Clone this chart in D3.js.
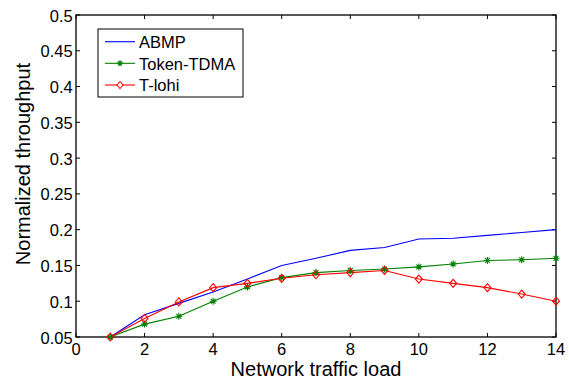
<!DOCTYPE html>
<html><head><meta charset="utf-8">
<script src="https://cdn.jsdelivr.net/npm/d3@7"></script>
<style>body{margin:0;background:#fff}svg{display:block}text{font-family:"Liberation Sans",Arial,sans-serif}</style>
</head><body>
<svg id="c" width="569" height="381"></svg>
<script>
const loads = [1,2,3,4,5,6,7,8,9,10,11,12,13,14];
const abmp = [0.05,0.081,0.097,0.113,0.131,0.150,0.160,0.171,0.175,0.187,0.188,0.192,0.196,0.200];
const tokenTdma = [0.05,0.068,0.079,0.100,0.120,0.133,0.140,0.143,0.145,0.148,0.152,0.157,0.158,0.160];
const tLohi = [0.05,0.076,0.099,0.119,0.125,0.132,0.137,0.140,0.143,0.131,0.125,0.119,0.110,0.100];
const xTicks = [0,2,4,6,8,10,12,14];
const yTicks = [0.05,0.1,0.15,0.2,0.25,0.3,0.35,0.4,0.45,0.5];
const yTickLabels = ["0.05","0.1","0.15","0.2","0.25","0.3","0.35","0.4","0.45","0.5"];
const seriesNames = ["ABMP","Token-TDMA","T-lohi"];

const svg = d3.select("#c");
const L=76, R=556, T=15, B=337;
const x = d3.scaleLinear().domain([0,14]).range([L,R]);
const y = d3.scaleLinear().domain([0.05,0.5]).range([B,T]);
const FS = 16.5;

// frame
svg.append("rect").attr("x",L).attr("y",T).attr("width",R-L).attr("height",B-T)
  .attr("fill","none").attr("stroke","#000").attr("stroke-width",1.3);

// ticks (inward on all sides)
const tl=4;
const g = svg.append("g").attr("stroke","#000").attr("stroke-width",1);
xTicks.forEach(t=>{
  g.append("line").attr("x1",x(t)).attr("x2",x(t)).attr("y1",B).attr("y2",B-tl);
  g.append("line").attr("x1",x(t)).attr("x2",x(t)).attr("y1",T).attr("y2",T+tl);
});
yTicks.forEach(t=>{
  g.append("line").attr("x1",L).attr("x2",L+tl).attr("y1",y(t)).attr("y2",y(t));
  g.append("line").attr("x1",R).attr("x2",R-tl).attr("y1",y(t)).attr("y2",y(t));
});
xTicks.forEach(t=>{
  svg.append("text").attr("x",x(t)).attr("y",B+18).attr("text-anchor","middle")
    .attr("font-size",FS).text(t);
});
yTicks.forEach((t,i)=>{
  svg.append("text").attr("x",L-3.3).attr("y",y(t)+6.5).attr("text-anchor","end")
    .attr("font-size",FS).text(yTickLabels[i]);
});
svg.append("text").attr("x",(L+R)/2).attr("y",376).attr("text-anchor","middle")
  .attr("font-size",20).text("Network traffic load");
svg.append("text").attr("transform",`translate(30,164) rotate(-90)`)
  .attr("text-anchor","middle").attr("font-size",20).text("Normalized throughput");

const line = d3.line().x((d,i)=>x(loads[i])).y(d=>y(d));
const colors = ["#0000ff","#008000","#ff0000"];
const data = [abmp,tokenTdma,tLohi];
data.forEach((s,k)=>{
  svg.append("path").datum(s).attr("d",line).attr("fill","none")
    .attr("stroke",colors[k]).attr("stroke-width",1.1);
});
function star(cx,cy,r){
  const a=r*0.7;
  return `M${cx-r},${cy}L${cx+r},${cy}M${cx},${cy-r}L${cx},${cy+r}M${cx-a},${cy-a}L${cx+a},${cy+a}M${cx-a},${cy+a}L${cx+a},${cy-a}`;
}
function diamond(cx,cy,w,h){
  return `M${cx},${cy-h}L${cx+w},${cy}L${cx},${cy+h}L${cx-w},${cy}Z`;
}
tokenTdma.forEach((v,i)=>{
  svg.append("path").attr("d",star(x(loads[i]),y(v),3.5)).attr("stroke",colors[1])
    .attr("stroke-width",1.1).attr("fill","none");
});
tLohi.forEach((v,i)=>{
  svg.append("path").attr("d",diamond(x(loads[i]),y(v),3.5,4)).attr("stroke",colors[2])
    .attr("stroke-width",1.1).attr("fill","none");
});

// legend
const lg = svg.append("g");
lg.append("rect").attr("x",98).attr("y",29).attr("width",145).attr("height",68)
  .attr("fill","#fff").attr("stroke","#000").attr("stroke-width",1);
const rows=[41.7,63.3,85];
seriesNames.forEach((n,k)=>{
  lg.append("line").attr("x1",105).attr("x2",135).attr("y1",rows[k]).attr("y2",rows[k])
    .attr("stroke",colors[k]).attr("stroke-width",1.1);
  if(k===1) lg.append("path").attr("d",star(120,rows[k],3)).attr("stroke",colors[1]).attr("stroke-width",1.1);
  if(k===2) lg.append("path").attr("d",diamond(120,rows[k],3,3.5)).attr("stroke",colors[2]).attr("fill","#fff").attr("stroke-width",1.1);
  lg.append("text").attr("x",139).attr("y",rows[k]+6.3).attr("font-size",FS).text(n);
});
</script>
</body></html>
